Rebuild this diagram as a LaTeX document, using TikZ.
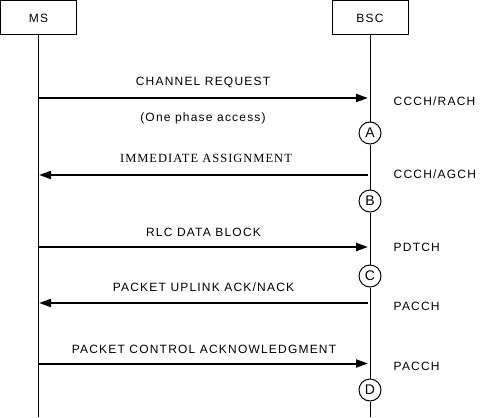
\documentclass[tikz,border=0pt]{standalone}
\usepackage{fontspec}
\newfontfamily\lblfont{Liberation Sans}[LetterSpace=10]
\newfontfamily\serfont{Liberation Serif}[LetterSpace=8]
\usetikzlibrary{arrows.meta}
\begin{document}
\begin{tikzpicture}[x=1pt,y=-1pt,
  entity/.style={draw,line width=1pt,minimum width=76pt,minimum height=34pt,inner sep=0pt,font=\lblfont\fontsize{12}{14}\selectfont},
  lifeline/.style={line width=1pt},
  msg/.style={line width=2pt,-{Triangle[length=12pt,width=8pt]}},
  lbl/.style={font=\lblfont\fontsize{12}{14}\selectfont,inner sep=0pt},
  serlbl/.style={font=\serfont\fontsize{12.5}{14}\selectfont,inner sep=0pt},
  chan/.style={lbl,anchor=west},
  statecirc/.style={draw,circle,line width=1pt,minimum size=22pt,inner sep=0pt,font=\lblfont\fontsize{14}{15}\selectfont}]
\useasboundingbox (0,0) rectangle (486,417);
\node[entity] (ms) at (38.5,18) {MS};
\node[entity] (bsc) at (370,18) {BSC};
\node[statecirc] (A) at (370,133) {A};
\node[statecirc] (B) at (370,201) {B};
\node[statecirc] (C) at (370,276) {C};
\node[statecirc] (D) at (370,390) {D};
\coordinate (msend) at (38.5,417);
\coordinate (bscend) at (370,417);
\draw[lifeline] (ms) -- (msend);
\draw[lifeline] (bsc) -- (A) (A) -- (B) (B) -- (C) (C) -- (D) (D) -- (bscend);
% message end points
\coordinate (m1s) at (38.5,98);  \coordinate (m1e) at (368,98);
\coordinate (m2s) at (368,175);  \coordinate (m2e) at (39,175);
\coordinate (m3s) at (38.5,247); \coordinate (m3e) at (368,247);
\coordinate (m4s) at (368,303);  \coordinate (m4e) at (39,303);
\coordinate (m5s) at (38.5,363.5); \coordinate (m5e) at (368,363.5);
\draw[msg] (m1s) -- (m1e);
\draw[msg] (m2s) -- (m2e);
\draw[msg] (m3s) -- (m3e);
\draw[msg] (m4s) -- (m4e);
\draw[msg] (m5s) -- (m5e);
% labels
\node[lbl] (l1) at (203,82) {CHANNEL REQUEST};
\node[lbl] (l1b) at (203,118) {(One phase access)};
\node[serlbl] (l2) at (206,158) {IMMEDIATE ASSIGNMENT};
\node[lbl] (l3) at (203.5,232) {RLC DATA BLOCK};
\node[lbl] (l4) at (203.5,287.5) {PACKET UPLINK ACK/NACK};
\node[lbl] (l5) at (204,349) {PACKET CONTROL ACKNOWLEDGMENT};
\node[chan] (c1) at (393.5,101.5) {CCCH/RACH};
\node[chan] (c2) at (393.5,174) {CCCH/AGCH};
\node[chan] (c3) at (393.5,247) {PDTCH};
\node[chan] (c4) at (393.5,306) {PACCH};
\node[chan] (c5) at (393.5,366) {PACCH};
\end{tikzpicture}
\end{document}
